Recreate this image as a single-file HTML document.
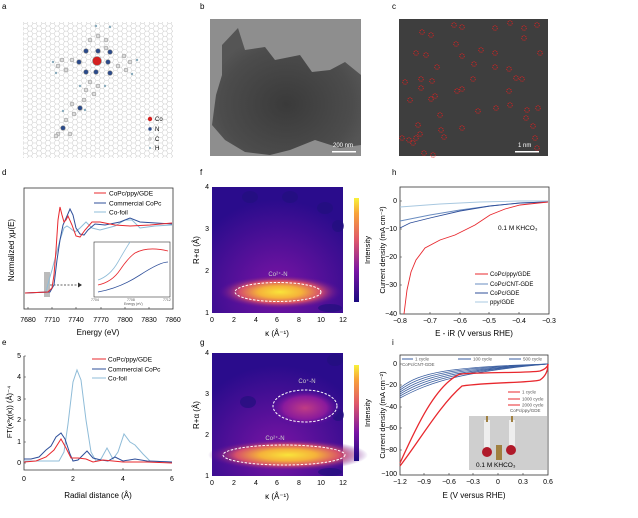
<!DOCTYPE html>
<html><head><meta charset="utf-8"><style>
html,body{margin:0;padding:0;background:#fff;width:638px;height:518px;overflow:hidden}
svg{display:block;font-family:"Liberation Sans",sans-serif}
</style></head><body>
<svg width="638" height="518" viewBox="0 0 638 518" xmlns="http://www.w3.org/2000/svg">
<defs>
<pattern id="hex" width="9" height="5.2" patternUnits="userSpaceOnUse">
<path d="M0,2.6 L1.5,0 L4.5,0 L6,2.6 L4.5,5.2 L1.5,5.2 Z M6,2.6 L9,2.6" fill="none" stroke="#c8c8c8" stroke-width="0.5"/>
</pattern>
<radialGradient id="blobF" cx="0.5" cy="0.5" r="0.5">
<stop offset="0" stop-color="#f9e43a"/><stop offset="0.35" stop-color="#f5b23a"/><stop offset="0.65" stop-color="#d6506a"/><stop offset="1" stop-color="#5a0c9a" stop-opacity="0"/>
</radialGradient>
<radialGradient id="blobM" cx="0.5" cy="0.5" r="0.5">
<stop offset="0" stop-color="#c03c84"/><stop offset="0.6" stop-color="#8a1a9c"/><stop offset="1" stop-color="#4a0ca0" stop-opacity="0"/>
</radialGradient>
<radialGradient id="bgGlow" cx="0.5" cy="0.8" r="0.7">
<stop offset="0" stop-color="#7a14a4"/><stop offset="1" stop-color="#2a0c8c"/>
</radialGradient>
<linearGradient id="cbar" x1="0" y1="1" x2="0" y2="0">
<stop offset="0" stop-color="#1a0a80"/><stop offset="0.3" stop-color="#7a14a4"/><stop offset="0.6" stop-color="#e0586a"/><stop offset="0.85" stop-color="#f8a23a"/><stop offset="1" stop-color="#f8f23a"/>
</linearGradient>
<radialGradient id="tem" cx="0.5" cy="0.6" r="0.55">
<stop offset="0" stop-color="#3a3a3a"/><stop offset="0.8" stop-color="#4c4c4c"/><stop offset="1" stop-color="#555"/>
</radialGradient>
</defs>

<g font-size="8" fill="#000">
<text x="2" y="9">a</text><text x="200" y="9">b</text><text x="392" y="9">c</text>
<text x="2" y="175">d</text><text x="200" y="175">f</text><text x="392" y="175">h</text>
<text x="2" y="345">e</text><text x="200" y="345">g</text><text x="392" y="345">i</text>
</g>

<!-- a -->
<rect x="23" y="22" width="150" height="136" fill="url(#hex)"/>
<g stroke="#888" stroke-width="0.6">
<circle cx="97" cy="61" r="4.5" fill="#d42020"/>
<circle cx="86" cy="51" r="2.3" fill="#2a4a8a"/><circle cx="98" cy="51" r="2.3" fill="#2a4a8a"/>
<circle cx="108" cy="62" r="2.3" fill="#2a4a8a"/><circle cx="86" cy="72" r="2.3" fill="#2a4a8a"/>
<circle cx="96" cy="72" r="2.3" fill="#2a4a8a"/><circle cx="79" cy="62" r="2.3" fill="#2a4a8a"/>
<circle cx="110" cy="52" r="2.3" fill="#2a4a8a"/><circle cx="110" cy="73" r="2.3" fill="#2a4a8a"/>
<circle cx="80" cy="108" r="2.3" fill="#2a4a8a"/><circle cx="63" cy="128" r="2.3" fill="#2a4a8a"/>
</g>
<g fill="#ddd" stroke="#888" stroke-width="0.5">
<circle cx="90" cy="40" r="2"/><circle cx="98" cy="36" r="2"/><circle cx="106" cy="40" r="2"/><circle cx="106" cy="48" r="2"/>
<circle cx="62" cy="60" r="2"/><circle cx="58" cy="66" r="2"/><circle cx="66" cy="70" r="2"/><circle cx="72" cy="60" r="2"/>
<circle cx="124" cy="56" r="2"/><circle cx="130" cy="62" r="2"/><circle cx="126" cy="70" r="2"/><circle cx="118" cy="66" r="2"/>
<circle cx="90" cy="82" r="2"/><circle cx="98" cy="86" r="2"/><circle cx="86" cy="90" r="2"/><circle cx="94" cy="94" r="2"/>
<circle cx="84" cy="100" r="2"/><circle cx="72" cy="104" r="2"/><circle cx="74" cy="114" r="2"/><circle cx="66" cy="120" r="2"/>
<circle cx="70" cy="134" r="2"/><circle cx="58" cy="134" r="2"/><circle cx="56" cy="136" r="2"/>
</g>
<g fill="#8ab" stroke="none">
<circle cx="96" cy="26" r="1.2"/><circle cx="110" cy="27" r="1.2"/><circle cx="53" cy="62" r="1.2"/><circle cx="56" cy="73" r="1.2"/>
<circle cx="137" cy="60" r="1.2"/><circle cx="132" cy="74" r="1.2"/><circle cx="105" cy="86" r="1.2"/><circle cx="80" cy="86" r="1.2"/>
<circle cx="85" cy="110" r="1.2"/><circle cx="63" cy="111" r="1.2"/>
</g>
<circle cx="150" cy="119" r="2.2" fill="#d42020"/><circle cx="150" cy="129" r="1.7" fill="#2a4a8a"/>
<circle cx="150" cy="139" r="1.3" fill="#ddd" stroke="#888" stroke-width="0.4"/><circle cx="150" cy="148" r="1" fill="#8ab"/>
<g font-size="6"><text x="155" y="121">Co</text><text x="155" y="131">N</text><text x="155" y="141">C</text><text x="155" y="150">H</text></g>

<!-- b -->
<rect x="210" y="19" width="151" height="137" fill="#8e8e8e"/>
<path d="M222,45 L238,28 L245,50 L265,47 L275,60 L300,55 L312,72 L330,70 L345,62 L361,75 L361,145 L340,148 L315,140 L290,150 L270,155 L245,152 L225,140 L212,125 L216,95 L222,75 Z" fill="url(#tem)"/>
<rect x="332" y="151" width="24" height="1.5" fill="#fff"/>
<text x="333" y="147" font-size="6" fill="#fff">200 nm</text>

<!-- c -->
<rect x="399" y="19" width="149" height="137" fill="#3e3e3e"/>
<g fill="none" stroke="#e02020" stroke-width="0.8" stroke-dasharray="1.2,0.8">
<circle cx="422" cy="32" r="2.3"/><circle cx="431" cy="35" r="2.3"/><circle cx="454" cy="25" r="2.3"/><circle cx="462" cy="27" r="2.3"/>
<circle cx="495" cy="28" r="2.3"/><circle cx="510" cy="23" r="2.3"/><circle cx="524" cy="28" r="2.3"/><circle cx="537" cy="25" r="2.3"/>
<circle cx="416" cy="53" r="2.3"/><circle cx="426" cy="55" r="2.3"/><circle cx="456" cy="44" r="2.3"/><circle cx="462" cy="56" r="2.3"/>
<circle cx="481" cy="50" r="2.3"/><circle cx="495" cy="53" r="2.3"/><circle cx="524" cy="38" r="2.3"/><circle cx="540" cy="53" r="2.3"/>
<circle cx="437" cy="67" r="2.3"/><circle cx="474" cy="64" r="2.3"/><circle cx="495" cy="67" r="2.3"/><circle cx="509" cy="69" r="2.3"/>
<circle cx="405" cy="82" r="2.3"/><circle cx="421" cy="79" r="2.3"/><circle cx="432" cy="81" r="2.3"/><circle cx="473" cy="79" r="2.3"/>
<circle cx="516" cy="78" r="2.3"/><circle cx="522" cy="79" r="2.3"/><circle cx="421" cy="88" r="2.3"/><circle cx="457" cy="91" r="2.3"/>
<circle cx="462" cy="89" r="2.3"/><circle cx="509" cy="91" r="2.3"/><circle cx="410" cy="100" r="2.3"/><circle cx="431" cy="99" r="2.3"/>
<circle cx="435" cy="96" r="2.3"/><circle cx="478" cy="111" r="2.3"/><circle cx="496" cy="108" r="2.3"/><circle cx="510" cy="105" r="2.3"/>
<circle cx="527" cy="110" r="2.3"/><circle cx="538" cy="108" r="2.3"/><circle cx="440" cy="115" r="2.3"/><circle cx="526" cy="118" r="2.3"/>
<circle cx="418" cy="125" r="2.3"/><circle cx="462" cy="128" r="2.3"/><circle cx="533" cy="126" r="2.3"/><circle cx="441" cy="130" r="2.3"/>
<circle cx="420" cy="134" r="2.3"/><circle cx="444" cy="137" r="2.3"/><circle cx="402" cy="138" r="2.3"/><circle cx="409" cy="140" r="2.3"/>
<circle cx="416" cy="138" r="2.3"/><circle cx="413" cy="143" r="2.3"/><circle cx="535" cy="138" r="2.3"/><circle cx="537" cy="148" r="2.3"/>
<circle cx="424" cy="153" r="2.3"/><circle cx="433" cy="155" r="2.3"/>
</g>
<rect x="515" y="151" width="24" height="1.5" fill="#fff"/>
<text x="518" y="147" font-size="6" fill="#fff">1 nm</text>

<!-- d -->
<rect x="24" y="188" width="149" height="121" fill="none" stroke="#333" stroke-width="0.8"/>
<g font-size="7" text-anchor="middle">
<text x="28" y="322">7680</text><text x="52" y="322">7710</text><text x="76" y="322">7740</text><text x="101" y="322">7770</text><text x="125" y="322">7800</text><text x="149" y="322">7830</text><text x="173" y="322">7860</text>
<text x="98" y="335" font-size="8">Energy (eV)</text>
<text transform="translate(14,250) rotate(-90)" font-size="8">Normalized χμ(E)</text>
</g>
<g stroke="#333" stroke-width="0.6"><path d="M28,309v-2M52,309v-2M76,309v-2M101,309v-2M125,309v-2M149,309v-2"/></g>
<rect x="44" y="272" width="6" height="25" fill="#bbb"/>
<path d="M50,285 H78" stroke="#333" stroke-width="0.7" stroke-dasharray="2,1.5"/>
<path d="M78,282.5 L82,285 L78,287.5 Z" fill="#333"/>
<polyline fill="none" stroke="#8fbcd8" stroke-width="1" points="25,293 46,292 49,280 52,270 56,255 60,240 64,228 67,226 70,228 75,232 80,228 86,222 92,228 100,230 115,226 125,220 132,220 140,228 155,226 172,225"/>
<polyline fill="none" stroke="#2f4f9a" stroke-width="1" points="25,293 50,292 54,285 57,260 60,240 63,225 67,216 70,209 73,215 76,228 80,234 84,235 88,230 95,224 105,225 120,222 130,218 140,222 172,224"/>
<polyline fill="none" stroke="#e8282e" stroke-width="1" points="25,293 48,292 52,288 54,275 56,250 58,220 60,207 62,215 64,222 66,220 68,216 72,225 76,236 80,237 85,230 92,222 100,222 115,225 130,226 150,225 172,223"/>
<rect x="94" y="242" width="76" height="55" fill="#fff" stroke="#333" stroke-width="0.6"/>
<path d="M98,292 Q120,288 140,275 T168,262" fill="none" stroke="#2f4f9a" stroke-width="0.8"/>
<path d="M98,285 Q112,282 120,270 T135,253 Q148,246 168,251" fill="none" stroke="#e8282e" stroke-width="0.8"/>
<path d="M98,280 Q110,276 118,262 T130,242" fill="none" stroke="#8fbcd8" stroke-width="0.8"/>
<g font-size="3.5" fill="#555"><text x="91" y="301">7704</text><text x="127" y="301">7708</text><text x="163" y="301">7712</text><text x="124" y="305">Energy (eV)</text></g>
<g font-size="6.5">
<line x1="94" y1="193" x2="106" y2="193" stroke="#e8282e"/><text x="109" y="195.5">CoPc/ppy/GDE</text>
<line x1="94" y1="203" x2="106" y2="203" stroke="#2f4f9a"/><text x="109" y="205.5">Commercial CoPc</text>
<line x1="94" y1="212" x2="106" y2="212" stroke="#8fbcd8"/><text x="109" y="214.5">Co-foil</text>
</g>

<!-- e -->
<path d="M24,356 V470 H172" fill="none" stroke="#333" stroke-width="0.8"/>
<g stroke="#333" stroke-width="0.6"><path d="M24,463h2M24,442h2M24,420h2M24,399h2M24,377h2M24,356h2M73,470v-2M123,470v-2"/></g>
<g font-size="7" text-anchor="end"><text x="21" y="465">0</text><text x="21" y="444">1</text><text x="21" y="422">2</text><text x="21" y="401">3</text><text x="21" y="379">4</text><text x="21" y="358">5</text></g>
<g font-size="7" text-anchor="middle"><text x="24" y="481">0</text><text x="73" y="481">2</text><text x="123" y="481">4</text><text x="172" y="481">6</text>
<text x="98" y="498" font-size="8">Radial distance (Å)</text>
<text transform="translate(12,412) rotate(-90)" font-size="7.5">FT(κ³χ(κ)) (Å)⁻⁴</text></g>
<polyline fill="none" stroke="#8fbcd8" stroke-width="1" points="24,461 49,461 59,461 64,452 68,424 73,382 77,370 81,380 86,420 91,452 96,461 101,459 107,448 113,459 118,452 124,434 130,442 135,445 143,454 150,461 172,462"/>
<polyline fill="none" stroke="#2f4f9a" stroke-width="1" points="24,459 31,459 39,457 46,450 51,446 56,437 61,433 65,439 70,454 73,461 78,460 87,451 93,458 101,460 108,461 115,457 123,461 135,459 147,461 172,462"/>
<polyline fill="none" stroke="#e8282e" stroke-width="1" points="24,462 36,461 46,457 54,450 61,439 66,448 71,458 78,458 86,459 93,462 103,460 113,461 123,462 147,462 172,463"/>
<g font-size="6.5">
<line x1="92" y1="359" x2="106" y2="359" stroke="#e8282e"/><text x="108" y="361.5">CoPc/ppy/GDE</text>
<line x1="92" y1="369" x2="106" y2="369" stroke="#2f4f9a"/><text x="108" y="371.5">Commercial CoPc</text>
<line x1="92" y1="378" x2="106" y2="378" stroke="#8fbcd8"/><text x="108" y="380.5">Co-foil</text>
</g>

<!-- f -->
<rect x="212" y="187" width="131" height="126" fill="url(#bgGlow)"/>
<g fill="#22107e" opacity="0.7"><ellipse cx="250" cy="197" rx="8" ry="6"/><ellipse cx="290" cy="197" rx="8" ry="6"/><ellipse cx="325" cy="208" rx="8" ry="6"/><ellipse cx="338" cy="226" rx="6" ry="6"/><ellipse cx="330" cy="308" rx="12" ry="4"/></g>
<ellipse cx="280" cy="292" rx="62" ry="17" fill="url(#blobF)"/>
<ellipse cx="278" cy="292" rx="43" ry="9.5" fill="none" stroke="#fff" stroke-width="1" stroke-dasharray="2.5,1.5"/>
<text x="278" y="276" font-size="6" fill="#ccc" text-anchor="middle">Co²⁺-N</text>
<g font-size="7" text-anchor="end"><text x="209" y="315">1</text><text x="209" y="273">2</text><text x="209" y="231">3</text><text x="209" y="189">4</text></g>
<g font-size="7" text-anchor="middle"><text x="212" y="322">0</text><text x="234" y="322">2</text><text x="256" y="322">4</text><text x="277" y="322">6</text><text x="299" y="322">8</text><text x="321" y="322">10</text><text x="343" y="322">12</text>
<text x="277" y="336" font-size="8">κ (Å⁻¹)</text>
<text transform="translate(199,250) rotate(-90)" font-size="8">R+α (Å)</text></g>
<rect x="354" y="198" width="5" height="104" fill="url(#cbar)"/>
<text transform="translate(370,250) rotate(-90)" font-size="7.5" text-anchor="middle">Intensity</text>

<!-- g -->
<rect x="212" y="353" width="131" height="123" fill="url(#bgGlow)"/>
<g fill="#22107e" opacity="0.7"><ellipse cx="248" cy="402" rx="8" ry="6"/><ellipse cx="335" cy="360" rx="8" ry="6"/><ellipse cx="338" cy="415" rx="6" ry="6"/><ellipse cx="330" cy="472" rx="12" ry="4"/></g>
<ellipse cx="288" cy="455" rx="80" ry="16" fill="url(#blobF)"/>
<ellipse cx="305" cy="408" rx="36" ry="19" fill="url(#blobM)"/>
<ellipse cx="284" cy="455" rx="61" ry="10" fill="none" stroke="#fff" stroke-width="1" stroke-dasharray="2.5,1.5"/>
<ellipse cx="305" cy="406" rx="32" ry="16" fill="none" stroke="#fff" stroke-width="1" stroke-dasharray="2.5,1.5"/>
<text x="275" y="440" font-size="6" fill="#ccc" text-anchor="middle">Co²⁺-N</text>
<text x="307" y="383" font-size="6" fill="#ccc" text-anchor="middle">Co⁺-N</text>
<g font-size="7" text-anchor="end"><text x="209" y="478">1</text><text x="209" y="437">2</text><text x="209" y="396">3</text><text x="209" y="355">4</text></g>
<g font-size="7" text-anchor="middle"><text x="212" y="485">0</text><text x="234" y="485">2</text><text x="256" y="485">4</text><text x="277" y="485">6</text><text x="299" y="485">8</text><text x="321" y="485">10</text><text x="343" y="485">12</text>
<text x="277" y="499" font-size="8">κ (Å⁻¹)</text>
<text transform="translate(199,415) rotate(-90)" font-size="8">R+α (Å)</text></g>
<rect x="354" y="365" width="5" height="96" fill="url(#cbar)"/>
<text transform="translate(370,413) rotate(-90)" font-size="7.5" text-anchor="middle">Intensity</text>

<!-- h -->
<rect x="400" y="187" width="149" height="127" fill="none" stroke="#333" stroke-width="0.8"/>
<g stroke="#333" stroke-width="0.6"><path d="M400,201h2M400,229h2M400,257h2M400,285h2M430,314v-2M460,314v-2M489,314v-2M519,314v-2"/></g>
<g font-size="7" text-anchor="end"><text x="397" y="203">0</text><text x="397" y="231">−10</text><text x="397" y="259">−20</text><text x="397" y="287">−30</text><text x="397" y="316">−40</text></g>
<g font-size="7" text-anchor="middle"><text x="400" y="323">−0.8</text><text x="430" y="323">−0.7</text><text x="460" y="323">−0.6</text><text x="489" y="323">−0.5</text><text x="519" y="323">−0.4</text><text x="549" y="323">−0.3</text>
<text x="474" y="336" font-size="8">E - iR (V versus RHE)</text>
<text transform="translate(385,250) rotate(-90)" font-size="7.5">Current density (mA cm⁻²)</text></g>
<polyline fill="none" stroke="#a8c8e0" stroke-width="0.9" points="400,207 440,204 480,202 520,201 548,201"/>
<polyline fill="none" stroke="#6a8cc0" stroke-width="0.9" points="400,221 430,215 460,210 490,206 520,203 548,202"/>
<polyline fill="none" stroke="#2f4f9a" stroke-width="0.9" points="400,228 410,223 430,218 460,211 490,206 520,203 548,202"/>
<polyline fill="none" stroke="#e8282e" stroke-width="0.9" points="404,314 407,290 411,272 416,260 425,248 440,240 455,235 465,230 475,225 490,215 505,209 520,205 548,202"/>
<text x="498" y="230" font-size="6.5">0.1 M KHCO₃</text>
<g font-size="6">
<line x1="475" y1="274" x2="488" y2="274" stroke="#e8282e"/><text x="490" y="276">CoPc/ppy/GDE</text>
<line x1="475" y1="284" x2="488" y2="284" stroke="#6a8cc0"/><text x="490" y="286">CoPc/CNT-GDE</text>
<line x1="475" y1="293" x2="488" y2="293" stroke="#2f4f9a"/><text x="490" y="295">CoPc/GDE</text>
<line x1="475" y1="302" x2="488" y2="302" stroke="#a8c8e0"/><text x="490" y="304">ppy/GDE</text>
</g>

<!-- i -->
<rect x="400" y="355" width="148" height="120" fill="none" stroke="#333" stroke-width="0.8"/>
<g stroke="#333" stroke-width="0.6"><path d="M400,364h2M400,385h2M400,407h2M400,428h2M400,450h2M424,475v-2M449,475v-2M473,475v-2M498,475v-2M523,475v-2"/></g>
<g font-size="7" text-anchor="end"><text x="397" y="366">0</text><text x="397" y="387">−20</text><text x="397" y="409">−40</text><text x="397" y="430">−60</text><text x="397" y="452">−80</text><text x="397" y="476">−100</text></g>
<g font-size="7" text-anchor="middle"><text x="400" y="484">−1.2</text><text x="424" y="484">−0.9</text><text x="449" y="484">−0.6</text><text x="473" y="484">−0.3</text><text x="498" y="484">0</text><text x="523" y="484">0.3</text><text x="548" y="484">0.6</text>
<text x="474" y="498" font-size="8">E (V versus RHE)</text>
<text transform="translate(385,415) rotate(-90)" font-size="7.5">Current density (mA cm⁻²)</text></g>
<g fill="none" stroke="#3a5ea0" stroke-width="0.8">
<path d="M400,388 C420,372 450,367 548,364"/>
<path d="M400,390 C422,374 452,368 548,364"/>
<path d="M400,392 C424,376 454,369 548,364"/>
<path d="M400,394 C426,378 456,370 548,364"/>
<path d="M400,396 C428,380 458,371 548,364"/>
<path d="M400,398 C430,382 460,372 548,364"/>
</g>
<g fill="none" stroke="#e8282e" stroke-width="1.3">
<path d="M400,463 C415,430 435,385 460,374 C490,372 530,373 540,371 C546,369 548,366 548,364"/>
<path d="M400,466 C420,440 440,405 462,386 C490,382 530,383 540,380 C546,376 548,370 548,364"/>
</g>
<g font-size="4.5" fill="#555">
<line x1="402" y1="359" x2="413" y2="359" stroke="#3a5ea0"/><text x="415" y="360.5">1 cycle</text>
<line x1="458" y1="359" x2="471" y2="359" stroke="#3a5ea0"/><text x="473" y="360.5">100 cycle</text>
<line x1="509" y1="359" x2="521" y2="359" stroke="#3a5ea0"/><text x="523" y="360.5">500 cycle</text>
<text x="402" y="366">CoPc/CNT-GDE</text>
<line x1="508" y1="392" x2="520" y2="392" stroke="#e8282e"/><text x="522" y="393.5">1 cycle</text>
<line x1="508" y1="399" x2="520" y2="399" stroke="#e8282e"/><text x="522" y="400.5">1000 cycle</text>
<line x1="508" y1="405" x2="520" y2="405" stroke="#e8282e"/><text x="522" y="406.5">2000 cycle</text>
<text x="510" y="412">CoPc/ppy/GDE</text>
</g>
<rect x="469" y="416" width="78" height="54" fill="#cfcfcf"/>
<rect x="484" y="420" width="6" height="30" fill="#eee"/><rect x="509" y="420" width="6" height="30" fill="#eee"/>
<rect x="486" y="416" width="2" height="6" fill="#a08040"/><rect x="511" y="416" width="2" height="6" fill="#a08040"/>
<circle cx="487" cy="452" r="5" fill="#b01a2a"/><circle cx="511" cy="450" r="5" fill="#b01a2a"/>
<rect x="496" y="445" width="6" height="15" fill="#a08040"/>
<text x="476" y="467" font-size="6.5">0.1 M KHCO₃</text>
</svg>
</body></html>
